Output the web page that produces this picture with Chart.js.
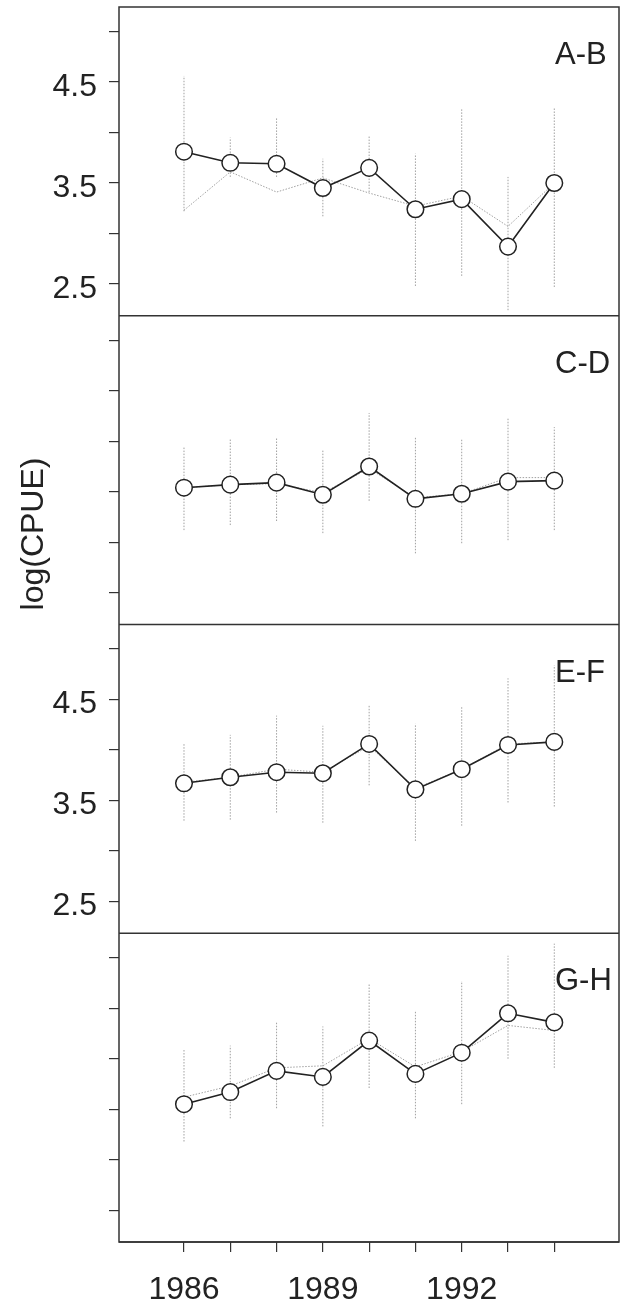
<!DOCTYPE html>
<html>
<head>
<meta charset="utf-8">
<script src="https://cdn.jsdelivr.net/npm/chart.js@4/dist/chart.umd.min.js"></script>
<style>
  html, body { margin: 0; padding: 0; background: #fff; }
  canvas { display: block; }
</style>
</head>
<body>
<canvas id="cpueChart" width="621" height="1309"></canvas>
<script>
const years = [1986, 1987, 1988, 1989, 1990, 1991, 1992, 1993, 1994];
const xTickLabels = [1986, 1989, 1992];
const yTicks = [2.5, 3.0, 3.5, 4.0, 4.5, 5.0];
const yTickLabels = [2.5, 3.5, 4.5];
const yTitle = "log(CPUE)";

const panelNames = ["A-B", "C-D", "E-F", "G-H"];
const panelShowsLabels = [true, false, true, false];

// solid line with circles
const abMean = [3.81, 3.70, 3.69, 3.45, 3.65, 3.24, 3.34, 2.87, 3.50];
const cdMean = [3.54, 3.57, 3.59, 3.47, 3.75, 3.43, 3.48, 3.60, 3.61];
const efMean = [3.67, 3.73, 3.78, 3.77, 4.06, 3.61, 3.81, 4.05, 4.08];
const ghMean = [3.55, 3.67, 3.88, 3.82, 4.18, 3.85, 4.06, 4.45, 4.36];

// dotted line
const abAlt = [3.23, 3.61, 3.41, 3.55, 3.40, 3.27, 3.37, 3.07, 3.50];
const cdAlt = [3.54, 3.57, 3.58, 3.49, 3.73, 3.44, 3.48, 3.64, 3.64];
const efAlt = [3.68, 3.73, 3.81, 3.78, 4.04, 3.62, 3.81, 4.06, 4.08];
const ghAlt = [3.62, 3.73, 3.91, 3.93, 4.20, 3.92, 4.07, 4.33, 4.28];

// dotted vertical bars
const abLow = [3.22, 3.56, 3.56, 3.17, 3.41, 2.48, 2.58, 2.24, 2.47];
const abHigh = [4.56, 3.95, 4.15, 3.74, 3.97, 3.79, 4.23, 3.56, 4.25];
const cdLow = [3.12, 3.17, 3.21, 3.09, 3.41, 2.89, 2.99, 3.02, 3.12];
const cdHigh = [3.94, 4.02, 4.03, 3.91, 4.28, 4.04, 4.03, 4.23, 4.14];
const efLow = [3.30, 3.31, 3.38, 3.28, 3.65, 3.10, 3.25, 3.48, 3.44];
const efHigh = [4.06, 4.15, 4.34, 4.24, 4.45, 4.26, 4.43, 4.71, 4.84];
const ghLow = [3.18, 3.41, 3.51, 3.33, 3.71, 3.41, 3.55, 4.00, 3.91];
const ghHigh = [4.09, 4.13, 4.36, 4.32, 4.75, 4.48, 4.77, 5.02, 5.14];

const panels = [
  { mean: abMean, alt: abAlt, low: abLow, high: abHigh },
  { mean: cdMean, alt: cdAlt, low: cdLow, high: cdHigh },
  { mean: efMean, alt: efAlt, low: efLow, high: efHigh },
  { mean: ghMean, alt: ghAlt, low: ghLow, high: ghHigh },
];

const FONT = '"Liberation Sans", Arial, Helvetica, sans-serif';
const ink = "#222";
const dotGray = "#a0a0a0";

const datasets = [];
const scales = {
  x: {
    type: "linear",
    position: "bottom",
    min: 1984.596,
    max: 1995.398,
    afterBuildTicks: s => { s.ticks = years.map(v => ({ value: v })); },
    afterFit: s => {
      s.height = 67;
      s.paddingLeft = 0;
      s.paddingRight = 0;
    },
    ticks: {
      autoSkip: false,
      maxRotation: 0,
      padding: 19,
      color: ink,
      font: { family: FONT, size: 32 },
      callback: v => (xTickLabels.includes(v) ? String(v) : ""),
    },
    grid: { drawOnChartArea: false, drawTicks: true, tickLength: 10, color: "#333", lineWidth: 1.2 },
    border: { display: false },
  },
};

panels.forEach((p, i) => {
  const id = "y" + i;
  const pts = arr => years.map((yr, k) => ({ x: yr, y: arr[k] }));
  const bars = [];
  years.forEach((yr, k) => {
    bars.push({ x: yr, y: p.low[k] });
    bars.push({ x: yr, y: p.high[k] });
    bars.push({ x: yr, y: null });
  });

  datasets.push({
    data: pts(p.mean),
    yAxisID: id,
    order: 0,
    borderColor: ink,
    borderWidth: 1.6,
    pointRadius: 8.3,
    pointBackgroundColor: "#fff",
    pointBorderColor: ink,
    pointBorderWidth: 1.5,
  });
  datasets.push({
    data: pts(p.alt),
    yAxisID: id,
    order: 1,
    borderColor: dotGray,
    borderWidth: 1,
    borderDash: [1.5, 1.5],
    pointRadius: 0,
  });
  datasets.push({
    data: bars,
    yAxisID: id,
    order: 2,
    borderColor: dotGray,
    borderWidth: 1,
    borderDash: [1.5, 1.5],
    pointRadius: 0,
    spanGaps: false,
  });

  scales[id] = {
    type: "linear",
    position: "left",
    stack: "panels",
    stackWeight: 1,
    weight: 4 - i,
    min: 2.185,
    max: 5.243,
    afterBuildTicks: s => { s.ticks = yTicks.map(v => ({ value: v })); },
    afterFit: s => {
      s.width = 119;
      s.paddingTop = 0;
      s.paddingBottom = 0;
    },
    ticks: {
      autoSkip: false,
      padding: 12,
      labelOffset: 5,
      color: ink,
      font: { family: FONT, size: 32 },
      callback: v => (panelShowsLabels[i] && yTickLabels.includes(v) ? v.toFixed(1) : ""),
    },
    grid: { drawOnChartArea: false, drawTicks: true, tickLength: 10, color: "#333", lineWidth: 1.2 },
    border: { display: false },
  };
});

const framePlugin = {
  id: "frame",
  afterDraw(chart) {
    const { ctx, chartArea } = chart;
    ctx.save();
    ctx.strokeStyle = "#333";
    ctx.lineWidth = 1.5;
    ctx.strokeRect(chartArea.left, chartArea.top, chartArea.right - chartArea.left, chartArea.bottom - chartArea.top);

    ctx.font = "31px " + FONT;
    ctx.fillStyle = ink;
    ctx.textAlign = "left";
    ctx.textBaseline = "alphabetic";
    panelNames.forEach((name, i) => {
      const s = chart.scales["y" + i];
      ctx.beginPath();
      ctx.moveTo(chartArea.left, s.bottom);
      ctx.lineTo(chartArea.right, s.bottom);
      ctx.stroke();
      ctx.fillText(name, chartArea.right - 64, s.top + 57);
    });

    // axis title
    ctx.font = "32px " + FONT;
    ctx.translate(34, 534);
    ctx.rotate(-Math.PI / 2);
    ctx.textAlign = "center";
    ctx.textBaseline = "middle";
    ctx.fillText(yTitle, 0, 0);
    ctx.restore();
  },
};

let cpueChart = new Chart(document.getElementById("cpueChart"), {
  type: "line",
  data: { datasets },
  options: {
    responsive: false,
    animation: false,
    devicePixelRatio: 1,
    layout: { autoPadding: false, padding: { top: 7, right: 2, left: 0, bottom: 0 } },
    plugins: { legend: { display: false }, tooltip: { enabled: false } },
    scales,
  },
  plugins: [framePlugin],
});
</script>
</body>
</html>
